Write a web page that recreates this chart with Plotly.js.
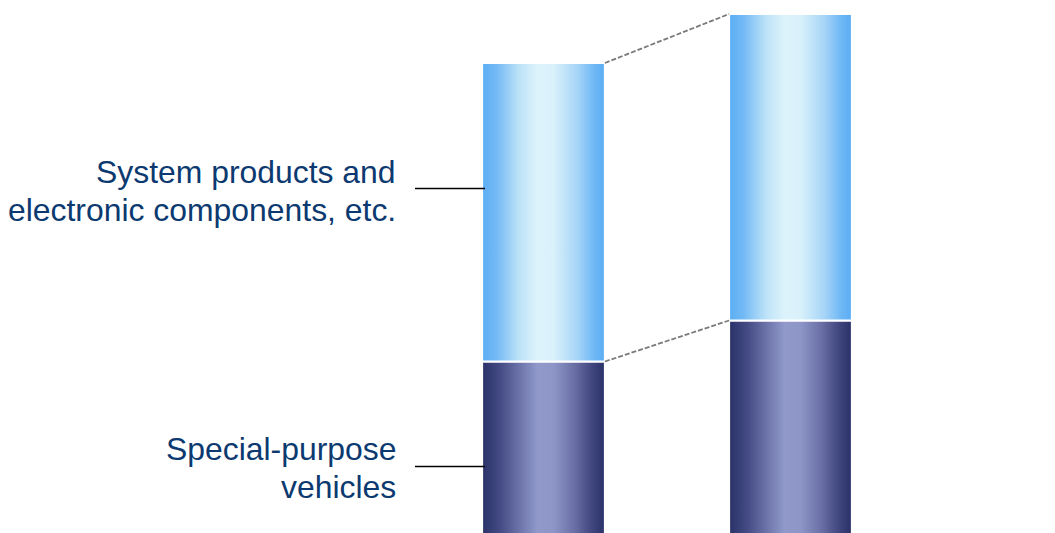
<!DOCTYPE html>
<html>
<head>
<meta charset="utf-8">
<script src="https://cdn.plot.ly/plotly-3.0.1.min.js"></script>
<style>html,body{margin:0;padding:0;background:#fff;}#chart{width:1055px;height:533px;}</style>
</head>
<body>
<div id="chart"></div>
<script>
// Data (relative heights)
const categories = ['Before', 'After'];
const specialPurposeVehicles = [174.5, 215.5];
const systemProducts = [298.5, 306.5];
const seriesLabels = ['Special-purpose vehicles', 'System products and electronic components, etc.'];

const barWidth = 0.497;
const lightScale = [[0,'#5AADF4'],[0.12,'#74BAF5'],[0.3,'#BCE2F8'],[0.45,'#DDF3FB'],[0.58,'#D9F1FB'],[0.78,'#A5D4F7'],[0.92,'#6CB6F5'],[1,'#5AADF4']];
const darkScale = [[0,'#293168'],[0.15,'#454C85'],[0.3,'#6B72A8'],[0.45,'#9099CA'],[0.58,'#8E96C8'],[0.75,'#6A70A5'],[0.9,'#3F457D'],[1,'#293168']];

const traces = [];
categories.forEach((c, i) => {
  const x0 = i - barWidth / 2, x1 = i + barWidth / 2;
  const b0 = 0, b1 = specialPurposeVehicles[i], b2 = specialPurposeVehicles[i] + systemProducts[i];
  traces.push({
    type: 'scatter', mode: 'lines', fill: 'toself',
    x: [x0, x1, x1, x0, x0], y: [b0, b0, b1, b1, b0],
    line: {color: '#ffffff', width: 2},
    fillgradient: {type: 'horizontal', colorscale: darkScale},
    name: seriesLabels[0], hoverinfo: 'skip', showlegend: false
  });
  traces.push({
    type: 'scatter', mode: 'lines', fill: 'toself',
    x: [x0, x1, x1, x0, x0], y: [b1, b1, b2, b2, b1],
    line: {color: '#ffffff', width: 2},
    fillgradient: {type: 'horizontal', colorscale: lightScale},
    name: seriesLabels[1], hoverinfo: 'skip', showlegend: false
  });
});

// dashed connectors between the bars
const tops0 = [specialPurposeVehicles[0], specialPurposeVehicles[0] + systemProducts[0]];
const tops1 = [specialPurposeVehicles[1], specialPurposeVehicles[1] + systemProducts[1]];
for (let k = 0; k < 2; k++) {
  traces.push({
    type: 'scatter', mode: 'lines',
    x: [0 + barWidth / 2, 1 - barWidth / 2], y: [tops0[k], tops1[k]],
    line: {color: '#7a7a7a', width: 1.8, dash: '5px,2px'},
    hoverinfo: 'skip', showlegend: false
  });
}

const W = 1055, H = 533;
const xPix = p => (p - 543.5) / 247;
const font = {family: 'Liberation Sans, Arial, sans-serif', size: 31.9, color: '#0C3A70'};
const labelLines = [
  ['System products and', 172], ['electronic components, etc.', 210],
  ['Special-purpose', 449], ['vehicles', 487]
];
const annotations = labelLines.map(([t, yp]) => ({
  text: t, xref: 'paper', yref: 'paper', x: 398 / W, y: 1 - yp / H,
  xanchor: 'right', yanchor: 'middle', showarrow: false, align: 'right', font: font
}));

const shapes = [188.5, 466.5].map(yp => ({
  type: 'line', xref: 'paper', yref: 'paper',
  x0: 415 / W, x1: 485 / W, y0: 1 - yp / H, y1: 1 - yp / H,
  line: {color: '#000000', width: 1.6}
}));

const layout = {
  width: W, height: H,
  margin: {l: 0, r: 0, t: 0, b: 0},
  paper_bgcolor: '#ffffff', plot_bgcolor: '#ffffff',
  xaxis: {range: [xPix(0), xPix(W)], visible: false, fixedrange: true},
  yaxis: {range: [3, H + 3], visible: false, fixedrange: true},
  showlegend: false,
  annotations: annotations,
  shapes: shapes
};

Plotly.newPlot('chart', traces, layout, {displayModeBar: false, staticPlot: true});
</script>
</body>
</html>
